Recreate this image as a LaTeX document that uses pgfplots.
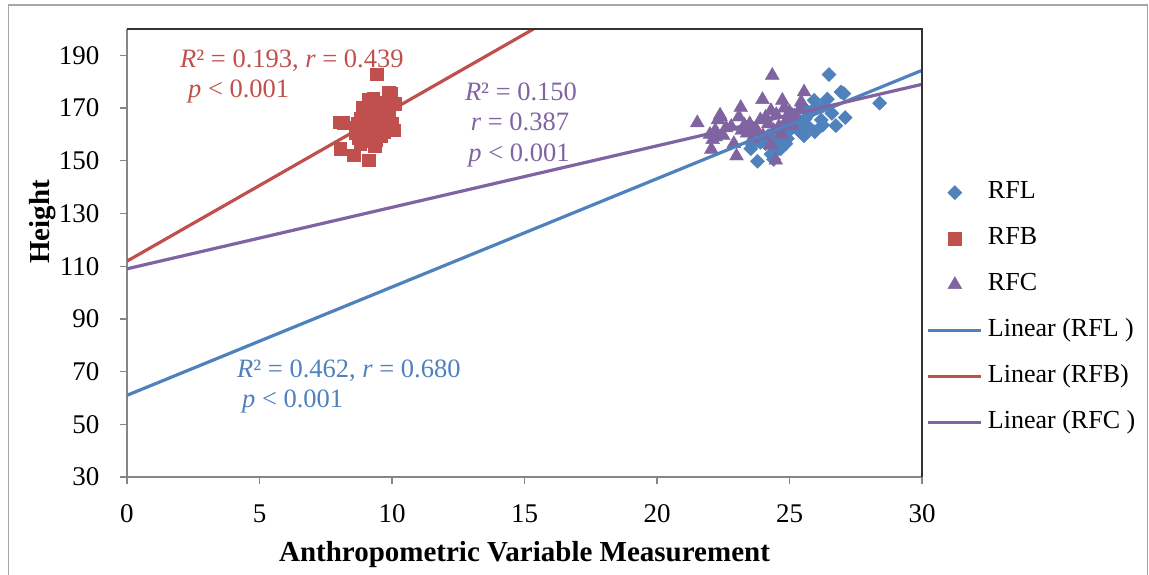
\documentclass[border=0pt]{standalone}
\usepackage{fontspec}
\setmainfont{Liberation Serif}
\usepackage{pgfplots}
\pgfplotsset{compat=1.18}
\definecolor{cBlue}{HTML}{4F81BD}
\definecolor{cRed}{HTML}{C0504D}
\definecolor{cPurple}{HTML}{8064A2}
\definecolor{axgray}{HTML}{868686}
\pgfplotsset{
  markleg/.style={legend image code/.code={\draw[##1] plot coordinates {(26.5pt,0pt)};}},
  lineleg/.style={legend image code/.code={\draw[##1] (0pt,0pt) -- (53pt,0pt);}},
}
\begin{document}
\begin{tikzpicture}[x=1pt,y=1pt]
\useasboundingbox (0,0) rectangle (1149,574);
\draw[gray!70, line width=1.5pt] (8.3,-5) -- (8.3,569) -- (1147.5,569) -- (1147.5,-5);
\begin{axis}[
  at={(127pt,97pt)}, anchor=south west, scale only axis,
  width=795pt, height=448pt,
  xmin=0, xmax=30, ymin=30, ymax=200,
  xtick={0,5,...,30}, ytick={30,50,...,190},
  axis lines=left, axis line style={-, axgray, line width=1.3pt},
  tick style={axgray, line width=1.3pt}, tick align=outside, major tick length=7pt,
  tick label style={font=\fontsize{27}{30}\selectfont, text=black},
  yticklabel style={xshift=-17pt},
  xticklabel style={yshift=-17pt},
  /pgf/number format/assume math mode=true,
  clip mode=individual,
  xlabel={Anthropometric Variable Measurement},
  ylabel={Height},
  label style={font=\bfseries\fontsize{29}{32}\selectfont},
  xlabel style={at={(axis description cs:0.5,-0.189)}, anchor=base},
  ylabel style={at={(axis description cs:-0.097,0.569)}, anchor=base},
  legend style={at={(axis description cs:1.006,0.6616)}, anchor=north west,
    draw=none, fill=none, inner sep=0pt, outer sep=0pt,
    font=\fontsize{26}{30}\selectfont, row sep=22pt,
    nodes={inner sep=0pt, text height=18pt, text depth=6pt},
    /tikz/every odd column/.style={column sep=5pt}},
  legend cell align=left,
]
\addplot[only marks, mark=square*, mark size=5pt, mark options={rotate=45, fill=cBlue, draw=cBlue}, markleg]
coordinates {
(26.49,182.7) (26.94,176.1) (27.05,175.5) (26.43,173.4) (25.93,172.9) (28.40,171.9)
(27.10,166.4) (26.75,163.3) (26.25,163.5) (25.95,161.0) (25.55,159.5) (24.86,156.5)
(24.67,154.6) (23.79,149.8) (23.54,154.6) (24.60,154.6) (24.92,158.4) (24.30,152.5)
(24.40,150.5) (25.20,164.5) (25.60,166.0) (25.80,168.5) (26.00,170.0) (25.30,162.0)
(24.80,160.0) (24.50,157.5) (24.10,156.5) (23.90,157.0) (25.00,161.5) (25.70,163.0)
(26.20,165.5) (24.70,162.5) (25.40,165.0) (26.60,168.0) (23.60,156.0) (24.20,159.5)
(25.10,167.5) (26.30,171.0) (24.90,164.0) (25.50,170.5)
};
\addlegendentry{RFL}
\addplot[only marks, mark=square*, mark size=6.2pt, mark options={fill=cRed, draw=cRed}, markleg]
coordinates {
(9.43,182.8) (9.87,176.1) (9.95,175.5) (8.01,164.7) (8.15,164.5) (10.06,161.6)
(9.98,161.8) (8.05,154.6) (8.55,152.1) (9.12,150.2) (10.12,171.7) (9.81,167.9)
(9.90,169.5) (9.10,173.2) (9.30,173.5) (8.90,170.2) (9.00,168.0) (9.20,166.5)
(8.80,166.0) (8.70,164.0) (9.40,165.0) (9.60,163.8) (9.50,170.5) (9.70,172.0)
(8.60,160.5) (8.90,161.5) (9.20,160.0) (9.40,158.0) (9.00,157.5) (8.80,156.5)
(8.75,158.5) (9.35,155.5) (9.60,159.5) (9.90,166.0) (9.30,162.5) (9.55,168.5)
(10.00,164.0) (8.65,162.5) (9.15,163.5) (9.70,161.0)
};
\addlegendentry{RFB}
\addplot[only marks, mark=triangle*, mark size=8pt, mark options={fill=cPurple, draw=cPurple}, markleg]
coordinates {
(24.35,182.4) (21.52,164.4) (22.38,167.3) (22.30,165.5) (23.16,170.2) (23.98,173.2)
(25.55,176.1) (24.73,172.9) (22.05,154.3) (23.00,151.8) (24.48,150.2) (24.29,155.9)
(25.44,172.3) (22.00,160.0) (22.20,161.5) (22.50,159.5) (22.60,162.5) (22.90,156.5)
(23.30,163.5) (23.50,164.0) (23.70,162.0) (23.90,165.5) (24.10,166.5) (24.20,164.0)
(24.50,167.5) (24.60,163.0) (24.80,170.0) (24.90,165.5) (25.00,168.5) (25.20,167.0)
(23.40,160.5) (23.60,158.5) (23.80,161.0) (24.00,159.5) (24.40,161.5) (24.70,160.0)
(25.10,163.5) (25.40,169.5) (22.80,163.0) (24.30,169.0) (23.20,161.5) (22.10,158.0)
(22.40,166.6) (23.09,166.6) (22.21,159.0)
};
\addlegendentry{RFC}
\addplot[cBlue, line width=3.2pt, no marks, lineleg]
coordinates {(0,61.0) (30,184.3)};
\addlegendentry{Linear (RFL )}
\addplot[cRed, line width=3.2pt, no marks, lineleg]
coordinates {(0,111.9) (15.34,200)};
\addlegendentry{Linear (RFB)}
\addplot[cPurple, line width=3.2pt, no marks, lineleg]
coordinates {(0,109.0) (30,179.0)};
\addlegendentry{Linear (RFC )}
\draw[black!80, line width=1.3pt] (rel axis cs:0,1) -- (rel axis cs:1,1) -- (rel axis cs:1,0);
\end{axis}
\begin{scope}[every node/.style={font=\fontsize{26.5}{30}\selectfont, inner sep=0pt}]
\node[anchor=base west, text=cRed] at (180,506) {\textit{R}² = 0.193, \textit{r} = 0.439};
\node[anchor=base west, text=cRed] at (188,476) {\textit{p} < 0.001};
\node[anchor=base, text=cPurple] at (521,473.3) {\textit{R}² = 0.150};
\node[anchor=base, text=cPurple] at (520,443) {\textit{r} = 0.387};
\node[anchor=base, text=cPurple] at (519,412.3) {\textit{p} < 0.001};
\node[anchor=base west, text=cBlue] at (237,197) {\textit{R}² = 0.462, \textit{r} = 0.680};
\node[anchor=base west, text=cBlue] at (242,167) {\textit{p} < 0.001};
\end{scope}
\end{tikzpicture}
\end{document}
